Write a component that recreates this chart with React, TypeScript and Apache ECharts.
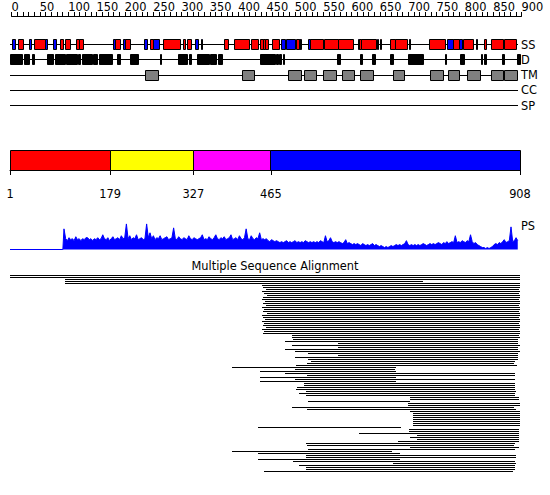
import React, { useEffect, useRef } from 'react';
import * as echarts from 'echarts';

const FONT = 'DejaVu Sans';
const FS = 11.4;
const SEQ_MIN = 1;
const SEQ_MAX = 908;

// ruler
const rulerLabels = [0, 50, 100, 150, 200, 250, 300, 350, 400, 450, 500, 550, 600, 650, 700, 750, 800, 850, 900];

// feature tracks
const trackNames = ['SS', 'D', 'TM', 'CC', 'SP'];
const helices: [number, number][] = [
  [17, 25], [45, 64], [90, 96], [99, 108], [120, 125], [125, 131], [188, 197], [207, 215], [250, 257],
  [274, 304], [309, 313], [316, 324], [382, 389], [400, 427], [430, 443], [447, 451], [451, 456], [456, 460],
  [467, 481], [511, 515], [518, 520], [535, 558], [561, 585], [585, 612], [623, 626], [626, 652], [660, 662],
  [677, 687], [687, 708], [747, 775], [790, 800], [807, 826], [844, 849], [857, 878], [880, 902],
];
const strands: [number, number][] = [
  [5, 11], [35, 40], [64, 68], [79, 83], [185, 188], [202, 207], [240, 246], [257, 266], [331, 336], [342, 344],
  [483, 491], [493, 509], [515, 518], [531, 535], [620, 621], [654, 656], [712, 714], [779, 789], [800, 805], [830, 832],
];
const disorder: [number, number][] = [
  [1, 23], [26, 35], [41, 44], [67, 78], [82, 99], [102, 121], [123, 127], [130, 148], [150, 157], [160, 183],
  [192, 198], [216, 229], [269, 271], [301, 316], [320, 324], [334, 355], [357, 369], [371, 379], [447, 473],
  [475, 478], [480, 483], [487, 490], [583, 589], [625, 628], [646, 651], [677, 683], [709, 736], [775, 778],
  [802, 809], [839, 842], [845, 849], [876, 880], [904, 908],
];
const tmSegments: [number, number][] = [
  [242, 265], [414, 436], [496, 520], [524, 546], [559, 581], [592, 613], [625, 647], [683, 703], [748, 772],
  [780, 801], [815, 837], [858, 878], [881, 904],
];

// domains
const domainBounds = [1, 179, 327, 465, 908];
const domainColors = ['#ff0000', '#ffff00', '#ff00ff', '#0000ff'];

// PS profile (values every psStep residues from psStart)
const psStart = 97;
const psStep = 3;
const psValues = [
  21, 11, 9, 12, 10, 11, 9, 13, 10, 11,
  9, 11, 10, 12, 12, 10, 11, 9, 11, 10,
  12, 10, 11, 15, 11, 10, 12, 9, 11, 13,
  10, 11, 12, 10, 14, 11, 12, 26, 11, 14,
  10, 12, 11, 15, 10, 11, 12, 10, 11, 26,
  12, 17, 11, 14, 10, 12, 11, 14, 10, 11,
  12, 13, 10, 11, 12, 22, 11, 10, 13, 11,
  10, 12, 11, 10, 14, 11, 10, 12, 11, 10,
  11, 12, 15, 10, 11, 10, 13, 11, 10, 12,
  15, 11, 10, 12, 11, 13, 10, 11, 12, 15,
  10, 11, 12, 10, 14, 11, 10, 12, 21, 11,
  10, 14, 11, 10, 12, 11, 17, 10, 11, 10,
  11, 9, 8, 10, 9, 8, 9, 8, 7, 8,
  7, 8, 9, 7, 8, 7, 8, 9, 7, 8,
  7, 8, 7, 9, 8, 7, 8, 7, 8, 7,
  8, 7, 9, 8, 7, 14, 8, 9, 12, 8,
  7, 8, 7, 8, 7, 6, 7, 10, 6, 7,
  6, 5, 6, 5, 6, 5, 4, 6, 5, 4,
  5, 4, 5, 6, 4, 5, 4, 3, 4, 3,
  2, 3, 2, 3, 4, 3, 4, 5, 4, 5,
  4, 5, 6, 9, 5, 4, 5, 4, 5, 4,
  5, 4, 5, 6, 5, 4, 5, 6, 5, 6,
  5, 6, 7, 6, 5, 7, 6, 8, 6, 7,
  8, 7, 14, 7, 8, 7, 9, 8, 7, 9,
  8, 15, 8, 6, 7, 5, 4, 3, 2, 2,
  1, 2, 1, 2, 3, 5, 6, 5, 7, 6,
  8, 10, 7, 8, 9, 23, 8, 9, 12, 9,
];

// multiple sequence alignment rows: [start, end, start, end, ...] in residues
const msaRows: number[][] = [
  [1, 908], [1, 908], [99, 908], [99, 735], [99, 908],
  [449, 908], [451, 908], [456, 906], [449, 908], [453, 906], [458, 908], [451, 908], [449, 906],
  [455, 908], [451, 908], [456, 906], [449, 908], [453, 908], [451, 906], [458, 908], [449, 908],
  [451, 906], [455, 908], [449, 908], [453, 906], [451, 908], [456, 908], [449, 906], [453, 908],
  [451, 908],
  [502, 905], [502, 908], [505, 905], [490, 905], [584, 905], [502, 908], [584, 905], [490, 905],
  [508, 908], [531, 905], [584, 905], [508, 905], [531, 905],
  [537, 899], [530, 899], [509, 902], [395, 686], [508, 686], [445, 686], [490, 899], [529, 899],
  [445, 686], [508, 900], [445, 687], [524, 899], [524, 899], [511, 899], [510, 899], [527, 900],
  [515, 900], [527, 899], [713, 906], [713, 906], [531, 712], [709, 908], [709, 908], [502, 896],
  [529, 900], [713, 908], [718, 908], [718, 908], [718, 908], [718, 908], [718, 908], [718, 908],
  [718, 908], [442, 697], [711, 906], [711, 906], [622, 906], [725, 906], [713, 906], [725, 906],
  [691, 906], [527, 899], [530, 899], [713, 906], [531, 899], [395, 680], [442, 694], [527, 900],
  [527, 900], [442, 694], [505, 900], [682, 900], [515, 899], [527, 899], [527, 899], [453, 896],
];

const crisp = (v: number) => Math.round(v - 0.5) + 0.5;

function boxSeries(data: [number, number][], track: number, fill: string) {
  return {
    type: 'custom',
    xAxisIndex: 1,
    yAxisIndex: 1,
    silent: true,
    clip: false,
    data: data.map(([s, e]) => [s, e, track]),
    encode: { x: [0, 1], y: 2 },
    renderItem: (_p: any, api: any) => {
      const a = api.coord([api.value(0), api.value(2)]);
      const b = api.coord([api.value(1), api.value(2)]);
      const cy = crisp(a[1]);
      const x1 = crisp(a[0]);
      const x2 = Math.max(crisp(b[0]), x1 + 1);
      return {
        type: 'rect',
        shape: { x: x1, y: cy - 5, width: x2 - x1, height: 10 },
        style: { fill, stroke: '#000', lineWidth: 1 },
      };
    },
  };
}

export default function App() {
  const ref = useRef<HTMLDivElement>(null);
  useEffect(() => {
    if (!ref.current) return;
    const chart = echarts.init(ref.current, undefined, { renderer: 'svg' });

    const domainData = domainColors.map((_, i) => [domainBounds[i], domainBounds[i + 1], i]);
    const psData: number[][] = [[SEQ_MIN, 0], [psStart - 2, 0]];
    psValues.forEach((v, i) => psData.push([psStart + i * psStep, v]));
    const msaData: number[][] = [];
    msaRows.forEach((segs, r) => {
      for (let k = 0; k < segs.length; k += 2) msaData.push([segs[k], segs[k + 1], r]);
    });
    const nRows = msaRows.length;

    const hiddenX = (gridIndex: number) => ({ gridIndex, type: 'value', min: SEQ_MIN, max: SEQ_MAX, show: false });
    const textStyle = { fontSize: FS, fontFamily: FONT, color: '#000' };

    chart.setOption({
      animation: false,
      title: {
        text: 'Multiple Sequence Alignment',
        left: 'center',
        top: 260,
        padding: 0,
        textStyle: { ...textStyle, fontWeight: 'normal' },
      },
      grid: [
        { left: 11.5, top: 15, width: 510, height: 1 },
        { left: 10, top: 36.9, width: 510, height: 76.25 },
        { left: 10, top: 150, width: 510, height: 20 },
        { left: 10, top: 220, width: 510, height: 29.5 },
        { left: 10, top: 274, width: 510, height: 2 * nRows },
      ],
      xAxis: [
        {
          gridIndex: 0,
          type: 'value',
          position: 'top',
          min: 0,
          max: 900,
          interval: 10,
          axisLine: { show: true, lineStyle: { color: '#000', width: 1 } },
          axisTick: { show: true, length: 4, lineStyle: { color: '#000' } },
          axisLabel: {
            ...textStyle,
            align: 'left',
            margin: 3,
            formatter: (v: number) => (rulerLabels.includes(v) ? String(v) : ''),
          },
          splitLine: { show: false },
        },
        hiddenX(1),
        {
          gridIndex: 2,
          type: 'value',
          min: SEQ_MIN,
          max: SEQ_MAX,
          position: 'bottom',
          offset: 11,
          axisLine: { show: true, lineStyle: { color: '#000', width: 1 } },
          axisTick: { show: true, length: 5, customValues: domainBounds, lineStyle: { color: '#000' } },
          axisLabel: { ...textStyle, margin: 7, customValues: domainBounds },
          splitLine: { show: false },
        },
        hiddenX(3),
        hiddenX(4),
      ],
      yAxis: [
        { gridIndex: 0, type: 'value', show: false },
        {
          gridIndex: 1,
          type: 'category',
          data: trackNames,
          inverse: true,
          position: 'right',
          axisLine: { show: false },
          axisTick: { show: false },
          splitLine: { show: false },
          axisLabel: { ...textStyle, margin: 1 },
        },
        { gridIndex: 2, type: 'value', min: 0, max: 1, show: false },
        { gridIndex: 3, type: 'value', min: 0, max: 30, show: false },
        { gridIndex: 4, type: 'category', data: msaRows.map((_, i) => String(i)), inverse: true, show: false },
      ],
      graphic: [
        {
          type: 'text',
          x: 521,
          y: 220,
          silent: true,
          style: { text: 'PS', fontSize: FS, fontFamily: FONT, fill: '#000', verticalAlign: 'top' },
        },
      ],
      series: [
        {
          type: 'custom',
          xAxisIndex: 1,
          yAxisIndex: 1,
          silent: true,
          clip: false,
          data: trackNames.map((_, i) => [SEQ_MIN, SEQ_MAX, i]),
          encode: { x: [0, 1], y: 2 },
          renderItem: (_p: any, api: any) => {
            const a = api.coord([api.value(0), api.value(2)]);
            const b = api.coord([api.value(1), api.value(2)]);
            const y = crisp(a[1]);
            return { type: 'line', shape: { x1: a[0], y1: y, x2: b[0] - 2, y2: y }, style: { stroke: '#000', lineWidth: 1 } };
          },
        },
        boxSeries(helices, 0, '#ff0000'),
        boxSeries(strands, 0, '#0000ff'),
        boxSeries(disorder, 1, '#000000'),
        boxSeries(tmSegments, 2, '#808080'),
        {
          type: 'custom',
          xAxisIndex: 2,
          yAxisIndex: 2,
          silent: true,
          clip: false,
          data: domainData,
          encode: { x: [0, 1] },
          renderItem: (_p: any, api: any) => {
            const a = api.coord([api.value(0), 1]);
            const b = api.coord([api.value(1), 0]);
            const x1 = crisp(a[0]);
            const x2 = crisp(b[0]);
            return {
              type: 'rect',
              shape: { x: x1, y: crisp(a[1]), width: x2 - x1, height: Math.round(b[1] - a[1]) },
              style: { fill: domainColors[api.value(2)], stroke: '#000', lineWidth: 1 },
            };
          },
        },
        {
          type: 'line',
          xAxisIndex: 3,
          yAxisIndex: 3,
          silent: true,
          symbol: 'none',
          data: psData,
          lineStyle: { color: '#0000ff', width: 1 },
          areaStyle: { color: '#0000ff', opacity: 1 },
        },
        {
          type: 'custom',
          xAxisIndex: 4,
          yAxisIndex: 4,
          silent: true,
          clip: false,
          data: msaData,
          encode: { x: [0, 1], y: 2 },
          renderItem: (_p: any, api: any) => {
            const a = api.coord([api.value(0), api.value(2)]);
            const b = api.coord([api.value(1), api.value(2)]);
            const y = Math.round(a[1] - 0.5);
            return { type: 'rect', shape: { x: Math.round(a[0]), y, width: Math.max(1, Math.round(b[0] - a[0])), height: 1 }, style: { fill: '#000' } };
          },
        },
      ],
    });
    return () => chart.dispose();
  }, []);

  return <div ref={ref} style={{ position: 'absolute', left: 0, top: 0, width: 550, height: 495, background: '#fff' }} />;
}
